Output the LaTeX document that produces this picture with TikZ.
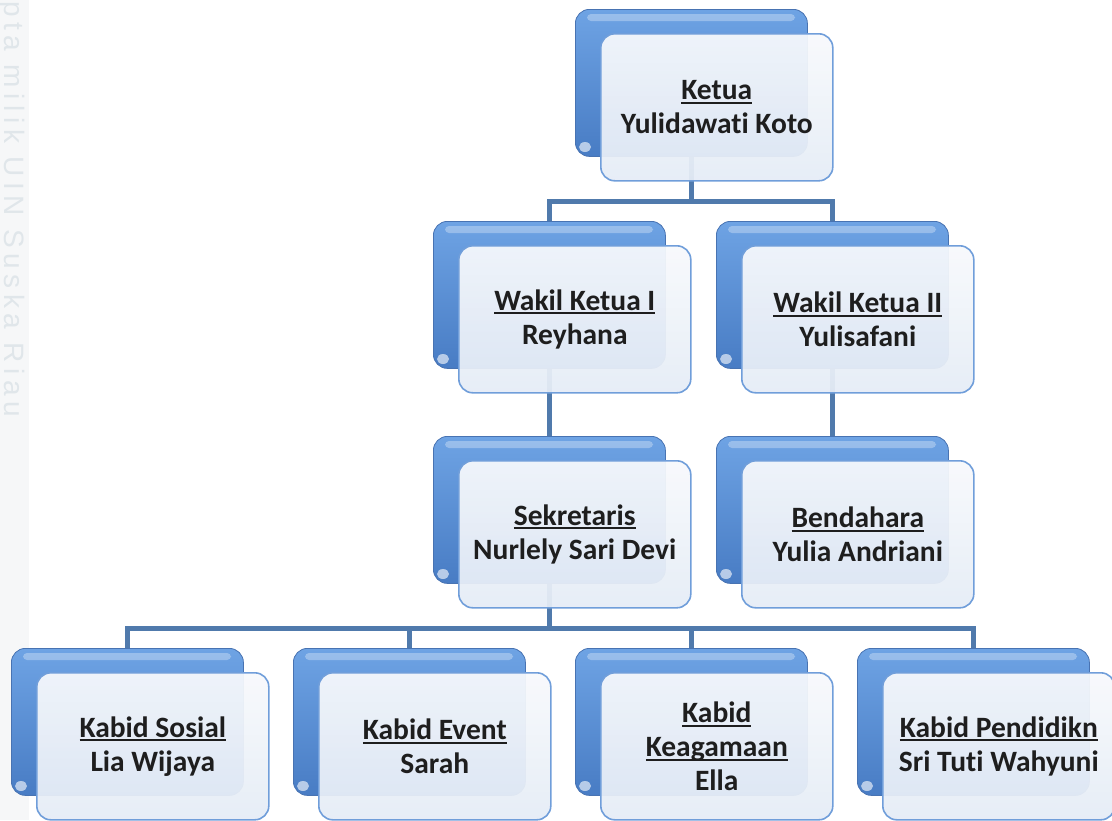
\documentclass[tikz,border=0pt]{standalone}
\usepackage{fontspec}
\setmainfont{Carlito}[Ligatures={NoCommon}]
\newfontfamily\wmfont{Liberation Sans}[LetterSpace=20]
\usetikzlibrary{calc,backgrounds}
\definecolor{conncol}{RGB}{80,122,172}
\definecolor{backtop}{RGB}{110,163,228}
\definecolor{backbot}{RGB}{72,124,196}
\definecolor{backedge}{RGB}{72,115,178}
\definecolor{fronttop}{RGB}{247,249,252}
\definecolor{frontbot}{RGB}{229,236,246}
\definecolor{frontedge}{RGB}{112,158,218}
\definecolor{txtcol}{RGB}{30,30,30}
\definecolor{stripcol}{RGB}{246,247,248}
\definecolor{wmcol}{RGB}{224,230,234}
\newsavebox\ulbox
\newcommand\ulx[1]{\sbox\ulbox{#1}\rlap{\rule[-4pt]{\wd\ulbox}{2pt}}\usebox\ulbox}
\tikzset{
  backbox/.style={rounded corners=14pt, minimum width=232pt, minimum height=147pt,
    anchor=north west, inner sep=0pt, top color=backtop, bottom color=backbot,
    draw=backedge, line width=0.8pt},
  hilite/.style={fill=white, fill opacity=0.3, rounded corners=4pt},
  glow/.style={fill=white, fill opacity=0.6},
  frontbox/.style={rounded corners=14pt, minimum width=232pt, minimum height=147pt,
    anchor=north west, inner sep=0pt, top color=fronttop, bottom color=frontbot,
    fill opacity=0.94, text opacity=1, draw=frontedge, line width=1.6pt,
    align=center, text=txtcol, font=\bfseries\fontsize{29.5}{34}\selectfont},
  conn/.style={draw=conncol, line width=4.5pt, line join=miter},
}
\newcommand\orgunit[4]{%
  \node[backbox] (#1B) at (#2,#3) {};
  \fill[hilite] (#2+12,#3+5) rectangle (#2+220,#3+12);
  \fill[glow] (#2+10,#3+138) ellipse (6pt and 5pt);
  \node[frontbox] (#1) at (#2+25,#3+24) {#4};
}
\begin{document}
\begin{tikzpicture}[x=1pt,y=-1pt]
\useasboundingbox (0,0) rectangle (1112,820);
\orgunit{ketua}{575}{9}{\ulx{Ketua}\\Yulidawati Koto}
\orgunit{wkA}{433}{221}{\ulx{Wakil Ketua I}\\Reyhana}
\orgunit{wkB}{716}{221}{\ulx{Wakil Ketua II}\\Yulisafani}
\orgunit{sek}{433}{436}{\ulx{Sekretaris}\\Nurlely Sari Devi}
\orgunit{ben}{716}{436}{\ulx{Bendahara}\\Yulia Andriani}
\orgunit{kA}{11}{648}{\ulx{Kabid Sosial}\\Lia Wijaya}
\orgunit{kB}{293}{648}{\ulx{Kabid Event}\\Sarah}
\orgunit{kC}{575}{648}{\ulx{Kabid}\\\ulx{Keagamaan}\\Ella}
\orgunit{kD}{857}{648}{\ulx{Kabid Pendidikn}\\Sri Tuti Wahyuni}
\begin{scope}[on background layer]
  \fill[stripcol] (0,0) rectangle (29,820);
  \node[rotate=-90, anchor=base west, inner sep=0pt, text=wmcol,
        font=\wmfont\fontsize{28}{34}\selectfont] (wm) at (5,1) {pta milik UIN Suska Riau};
  \coordinate (m1) at ($(ketua.south)!0.5!(wkAB.north)$);
  \draw[conn] (ketuaB.south) -- (ketuaB.south |- m1) -| (wkAB.north);
  \draw[conn] (ketuaB.south |- m1) -| (wkBB.north);
  \draw[conn] (wkAB.south) -- (sekB.north);
  \draw[conn] (wkBB.south) -- (benB.north);
  \coordinate (m2) at ($(sek.south)!0.5!(kAB.north)$);
  \draw[conn] (sekB.south) -- (sekB.south |- m2);
  \draw[conn] (kAB.north) |- (kDB.north |- m2) -- (kDB.north);
  \draw[conn] (kBB.north) -- (kBB.north |- m2);
  \draw[conn] (kCB.north) -- (kCB.north |- m2);
\end{scope}
\end{tikzpicture}
\end{document}
